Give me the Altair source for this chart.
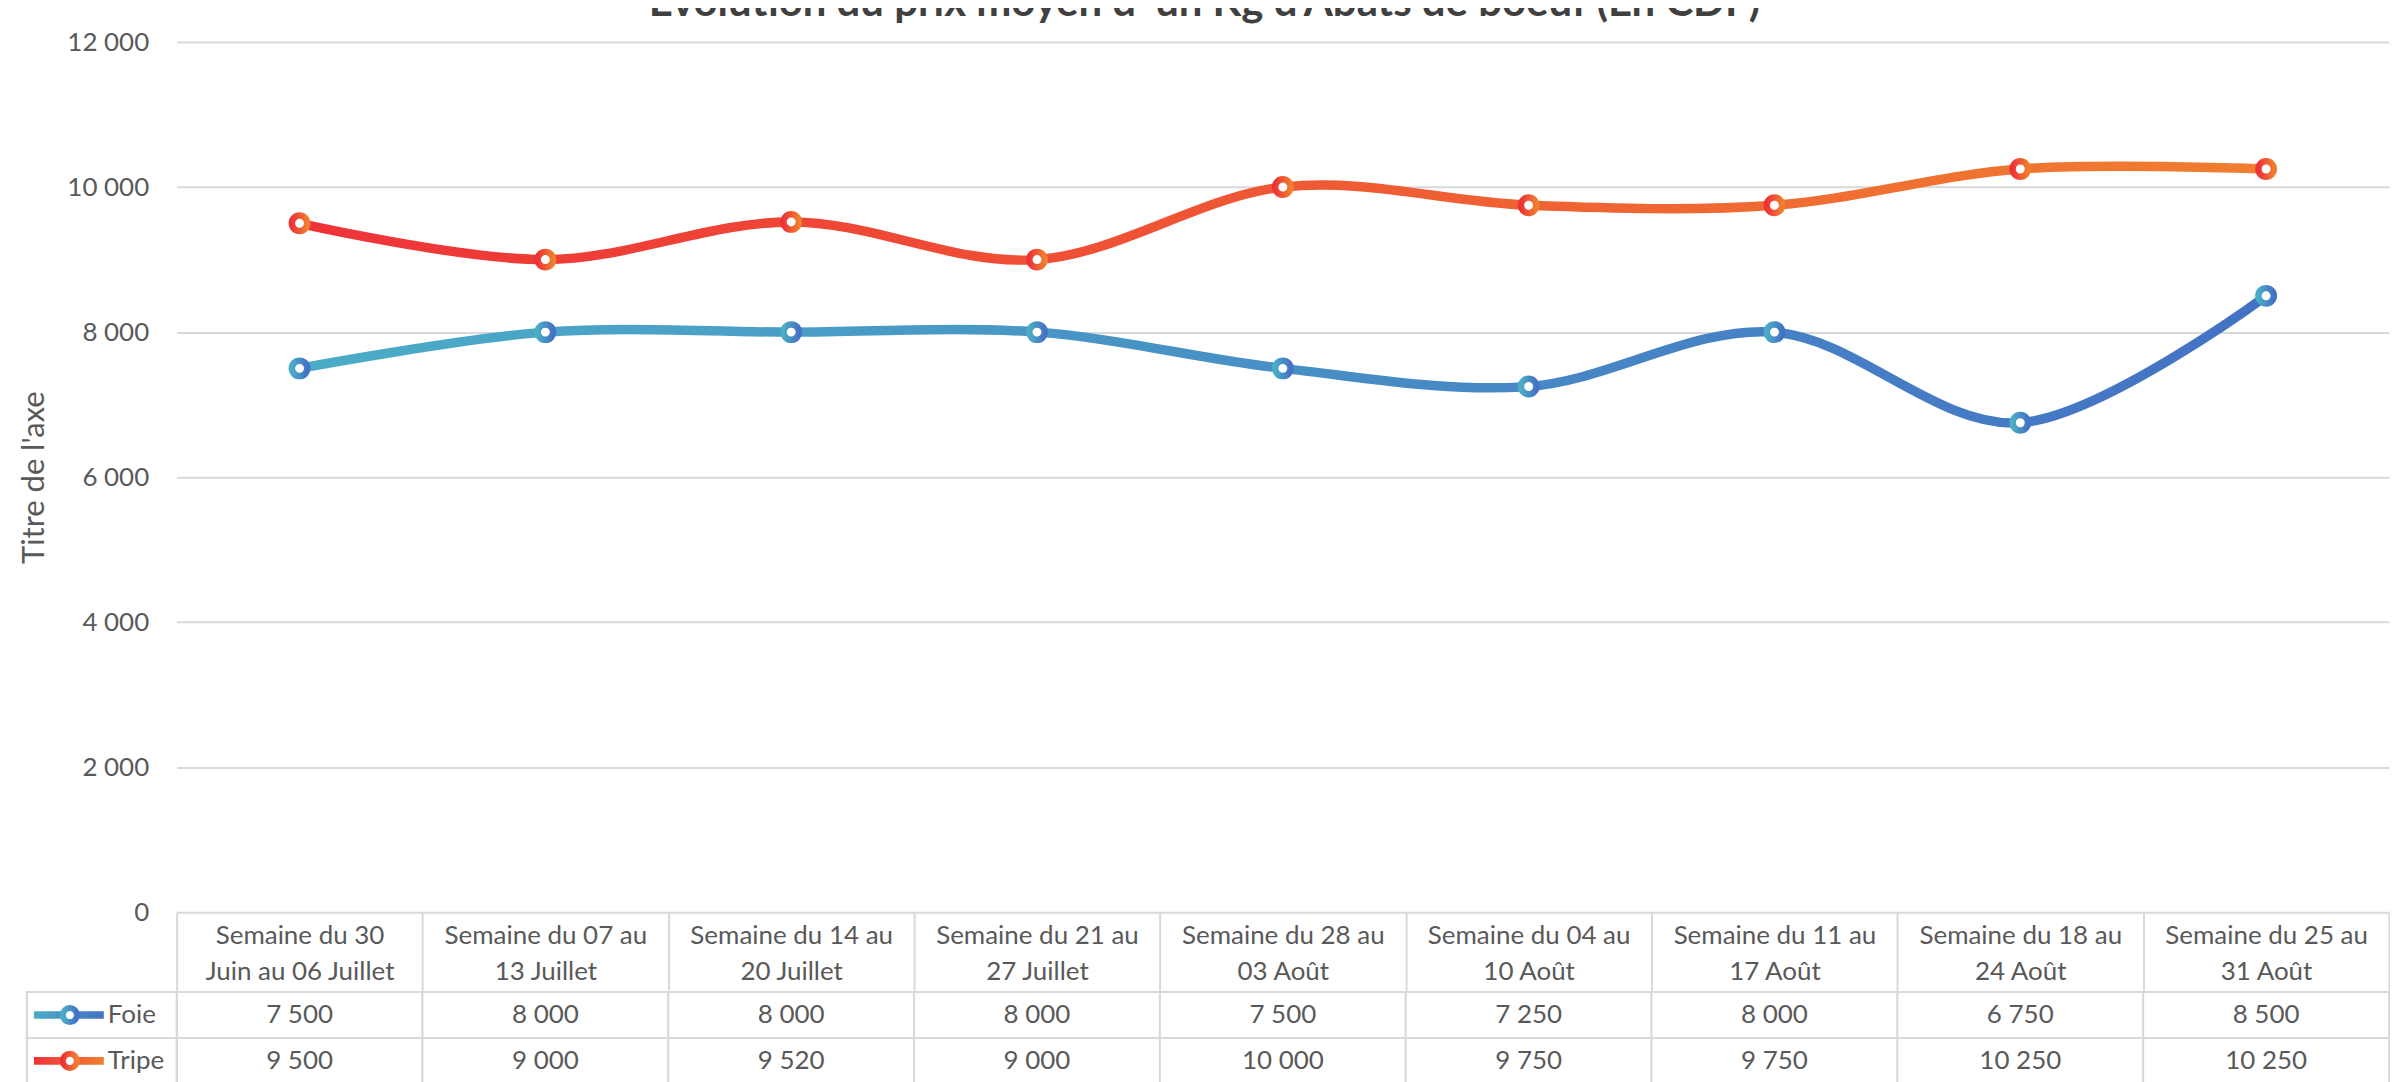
import altair as alt
import pandas as pd

# ---- data ----
categories = [
    "Semaine du 30|Juin au 06 Juillet",
    "Semaine du 07 au|13 Juillet",
    "Semaine du 14 au|20 Juillet",
    "Semaine du 21 au|27 Juillet",
    "Semaine du 28 au|03 Août",
    "Semaine du 04 au|10 Août",
    "Semaine du 11 au|17 Août",
    "Semaine du 18 au|24 Août",
    "Semaine du 25 au|31 Août",
]
foie = [7500, 8000, 8000, 8000, 7500, 7250, 8000, 6750, 8500]
tripe = [9500, 9000, 9520, 9000, 10000, 9750, 9750, 10250, 10250]
series_names = ["Foie", "Tripe"]
y_ticks = [0, 2000, 4000, 6000, 8000, 10000, 12000]

title_text = "Evolution du prix moyen d' un Kg d'Abats de boeuf (En CDF)"
y_title = "Titre de l'axe"

rows = []
for name, vals in zip(series_names, [foie, tripe]):
    for c, v in zip(categories, vals):
        rows.append({"category": c, "series": name, "value": v})
df = pd.DataFrame(rows)

FONT = "Lato"
TXT = "#595959"
GRID = "#D9D9D9"


def grad(c0, c1):
    return alt.Gradient(
        gradient="linear",
        stops=[alt.GradientStop(color=c0, offset=0), alt.GradientStop(color=c1, offset=1)],
        x1=0, x2=1, y1=0, y2=0,
    )


grads = {"Foie": grad("#4BACC6", "#4472C4"), "Tripe": grad("#EE3338", "#F07E30")}

x_scale = alt.Scale(type="band", paddingInner=0, paddingOuter=0)

x_top = alt.X(
    "category:N", sort=categories, scale=x_scale,
    axis=alt.Axis(
        title=None, domain=False, tickBand="extent", tickSize=80, tickColor=GRID,
        tickWidth=2, labelExpr="split(datum.label, '|')", labelAngle=0,
        labelPadding=-70, labelBaseline="top", labelFont=FONT, labelFontSize=26,
        labelColor=TXT, labelLineHeight=36, labelLimit=0,
    ),
)
y_top = alt.Y(
    "value:Q", scale=alt.Scale(domain=[0, 12000], nice=False),
    axis=alt.Axis(
        values=y_ticks, labelExpr="replace(format(datum.value, ','), ',', ' ')",
        title=y_title, grid=True, gridColor=GRID, gridWidth=2, domain=False,
        ticks=False, labelPadding=28, labelFont=FONT, labelFontSize=26,
        labelColor=TXT, titleFont=FONT, titleFontSize=31, titleColor=TXT,
        titleFontWeight="normal", titlePadding=16,
    ),
)

base = alt.Chart(df)
layers = []
for name in series_names:
    layers.append(
        base.transform_filter(alt.datum.series == name)
        .mark_line(interpolate="cardinal", strokeWidth=9.5, stroke=grads[name], strokeCap="round")
        .encode(x=x_top, y=y_top)
    )
for name in series_names:
    layers.append(
        base.transform_filter(alt.datum.series == name)
        .mark_point(shape="circle", filled=True, fill="white", fillOpacity=1,
                    stroke=grads[name], strokeWidth=6.5, size=240, opacity=1)
        .encode(x=x_top, y=y_top)
    )
top = alt.layer(*layers).properties(width=2217, height=872)

# ---- data table ----
x_tab = alt.X("category:N", sort=categories, scale=x_scale, axis=None)
y_tab = alt.Y("series:N", sort=series_names,
              scale=alt.Scale(type="band", paddingInner=0, paddingOuter=0), axis=None)

cells = base.mark_rect(fill="white", stroke=GRID, strokeWidth=2).encode(x=x_tab, y=y_tab)
values_txt = (
    base.transform_calculate(label="replace(format(datum.value, ','), ',', ' ')")
    .mark_text(font=FONT, fontSize=26, color=TXT, baseline="middle")
    .encode(x=x_tab, y=y_tab, text="label:N")
)
leg_cells = base.mark_rect(fill="white", stroke=GRID, strokeWidth=2).encode(
    x=alt.value(-150), x2=alt.value(0), y=y_tab
)
tab_layers = [cells, leg_cells, values_txt]
line_shape = "M-1,-0.11L1,-0.11L1,0.11L-1,0.11Z"
for name in series_names:
    sub = base.transform_filter(alt.datum.series == name).transform_filter(
        alt.datum.category == categories[0])
    tab_layers.append(
        sub.mark_point(shape=line_shape, filled=True, fill=grads[name], strokeWidth=0,
                       size=70 * 70, opacity=1)
        .encode(x=alt.value(-108), y=y_tab)
    )
    tab_layers.append(
        sub.mark_point(shape="circle", filled=True, fill="white", stroke=grads[name],
                       strokeWidth=6, size=200, opacity=1)
        .encode(x=alt.value(-107), y=y_tab)
    )
    tab_layers.append(
        sub.mark_text(font=FONT, fontSize=26, color=TXT, align="left", baseline="middle")
        .encode(x=alt.value(-69), y=y_tab, text="series:N")
    )
bottom = alt.layer(*tab_layers).properties(width=2217, height=92)

chart = (
    alt.vconcat(top, bottom, spacing=80, bounds="flush")
    .resolve_scale(x="independent", y="independent")
    .properties(
        title=alt.TitleParams(text=title_text, font=FONT, fontSize=42, fontWeight="bold",
                              color="#404040", anchor="middle"),
        padding={"left": 10, "top": -27, "right": 0, "bottom": 0},
    )
    .configure_view(stroke=None)
)

chart.save("out.html", embed_options={"renderer": "svg", "actions": False})
